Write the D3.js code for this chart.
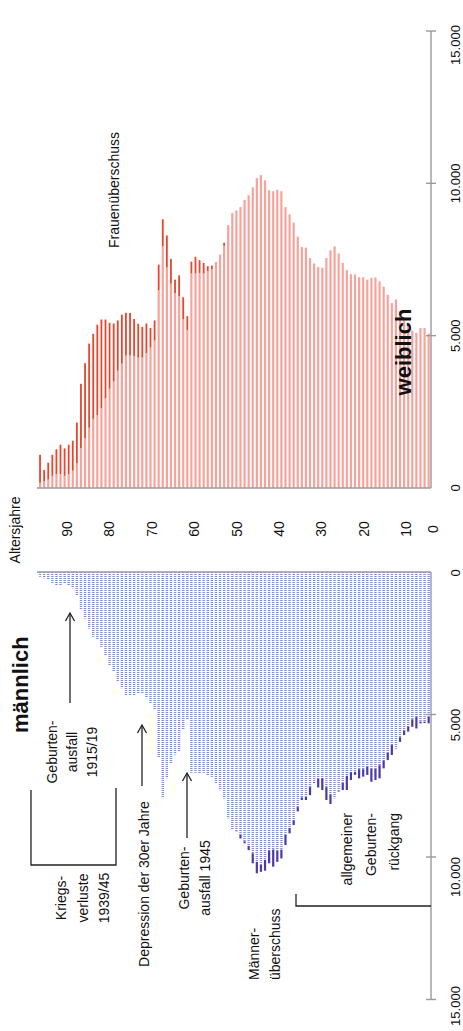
<!DOCTYPE html>
<html>
<head>
<meta charset="utf-8">
<script src="https://cdn.jsdelivr.net/npm/d3@7"></script>
<style>
  body { margin: 0; background: #fff; }
  text { font-family: "Liberation Sans", Arial, sans-serif; fill: #111; }
</style>
</head>
<body>
<div class="pyramid-area"></div>
<script>
// ages from 95 (left) down to 0 (right)
const ages = d3.range(95, -1, -1);

// Frauen, je Altersjahr (95 ... 0)
const female = [
  1090, 590, 830, 1090, 1270, 1420, 1300, 1420, 1550, 2150,
  3420, 4100, 4740, 5060, 5360, 5530, 5530, 5420, 5400, 5500,
  5690, 5750, 5750, 5550, 5390, 5290, 5400, 5250, 5500, 7330,
  8820, 8290, 7520, 6840, 6980, 6260, 5640, 7430, 7590, 7480,
  7390, 7280, 7300, 7420, 7660, 8050, 8630, 9020, 9110, 9220,
  9450, 9610, 9870, 10170, 10270, 10100, 9770, 9740, 9790, 9740,
  9220, 8980, 8710, 8250, 7910, 7890, 7550, 7370, 7250, 7230,
  7550, 7800, 7930, 7700, 7390, 7150, 7020, 7010, 6920, 6920,
  6840, 6900, 6910, 6780, 6610, 6340, 6070, 6190, 5800, 5560,
  5420, 5170, 5090, 5250, 5250, 5070
];

// Männer, je Altersjahr (95 ... 0)
const male = [
  170, 220, 280, 400, 460, 460, 400, 460, 570, 810,
  1310, 1630, 1980, 2270, 2390, 2620, 2950, 3260, 3500, 3850,
  4080, 4350, 4350, 4320, 4280, 4280, 4430, 4610, 4840, 6490,
  7940, 7240, 6710, 6400, 6300, 5540, 5190, 7040, 7040, 7060,
  7040, 7120, 7180, 7420, 7660, 7950, 8640, 9020, 9120, 9350,
  9520, 9760, 10220, 10570, 10520, 10480, 10220, 10340, 10170, 10050,
  9580, 9170, 8880, 8400, 8000, 8000, 7830, 7400, 7560, 7650,
  8000, 8140, 7940, 7720, 7650, 7650, 7300, 7120, 7240, 7180,
  7120, 7360, 7300, 7240, 6890, 6600, 6420, 6200, 5960, 5720,
  5600, 5430, 5490, 5310, 5300, 5310
];

const ageTicks = [90, 80, 70, 60, 50, 40, 30, 20, 10, 0];
const valueTicks = [0, 5000, 10000, 15000];

const width = 463,
  height = 1031,
  axisX = 431,
  barWidth = 2.2;

const de = d3.formatLocale({ decimal: ",", thousands: ".", grouping: [3], currency: ["", " €"] });
const formatNumber = de.format(",");

const svg = d3
  .select(".pyramid-area")
  .append("svg")
  .attr("width", width)
  .attr("height", height);

const x = d3.scaleBand().domain(ages).range([38, 430.7]).padding(0);
const cx = (a) => x(a) + x.bandwidth() / 2;

// female values grow upward, male values grow downward
const yF = d3.scaleLinear().domain([0, 15000]).range([488, 31]);
const yM = d3.scaleLinear().domain([0, 15000]).range([572, 999.5]);
// label positions of the male axis in the original are set a bit lower
const yMLabel = d3.scaleLinear().domain([0, 15000]).range([573, 1029]);
const ageLabel = d3.scaleLinear().domain([90, 10]).range([67, 406]);

const rows = ages.map((a, i) => ({ age: a, f: female[i], m: male[i] }));

// ---- weiblich ----
const fBars = svg.append("g");
fBars
  .selectAll("rect.light")
  .data(rows)
  .enter()
  .append("rect")
  .attr("x", (d) => cx(d.age) - barWidth / 2)
  .attr("width", barWidth)
  .attr("y", (d) => yF(Math.min(d.f, d.m)))
  .attr("height", (d) => yF(0) - yF(Math.min(d.f, d.m)))
  .attr("fill", "#f7a39b");

fBars
  .selectAll("rect.dark")
  .data(rows.filter((d) => d.f > d.m))
  .enter()
  .append("rect")
  .attr("x", (d) => cx(d.age) - barWidth / 2 + 0.2)
  .attr("width", barWidth - 0.4)
  .attr("y", (d) => yF(d.f))
  .attr("height", (d) => yF(d.m) - yF(d.f))
  .attr("fill", "#e8452c");

// ---- männlich ----
const mBars = svg.append("g");
mBars
  .selectAll("line")
  .data(rows)
  .enter()
  .append("line")
  .attr("x1", (d) => cx(d.age))
  .attr("x2", (d) => cx(d.age))
  .attr("y1", yM(0))
  .attr("y2", (d) => yM(Math.min(d.f, d.m)))
  .attr("stroke", "#7d8dd8")
  .attr("stroke-width", 2.4)
  .attr("stroke-dasharray", "1 1");

mBars
  .selectAll("rect")
  .data(rows.filter((d) => d.m > d.f))
  .enter()
  .append("rect")
  .attr("x", (d) => cx(d.age) - barWidth / 2)
  .attr("width", barWidth)
  .attr("y", (d) => yM(d.f))
  .attr("height", (d) => yM(d.m) - yM(d.f))
  .attr("fill", "#4b3aa6");

// ---- axes ----
const axis = svg.append("g").attr("stroke", "#9a9a9a").attr("stroke-width", 1.4).attr("fill", "none");
axis.append("line").attr("x1", 37).attr("x2", axisX).attr("y1", yF(0)).attr("y2", yF(0));
axis.append("line").attr("x1", 37).attr("x2", axisX).attr("y1", yM(0)).attr("y2", yM(0));
axis.append("line").attr("x1", axisX).attr("x2", axisX).attr("y1", yF(15000)).attr("y2", yF(0));
axis.append("line").attr("x1", axisX).attr("x2", axisX).attr("y1", yM(0)).attr("y2", yM(15000));
valueTicks.slice(1).forEach((v) => {
  axis.append("line").attr("x1", axisX - 5).attr("x2", axisX + 5).attr("y1", yF(v)).attr("y2", yF(v));
  axis.append("line").attr("x1", axisX - 5).attr("x2", axisX + 5).attr("y1", yM(v)).attr("y2", yM(v));
});

function vtext(px, py, str, size, anchor, weight) {
  return svg
    .append("text")
    .attr("transform", `translate(${px},${py}) rotate(-90)`)
    .attr("text-anchor", anchor || "middle")
    .attr("dominant-baseline", "central")
    .attr("font-size", size)
    .attr("font-weight", weight || "normal")
    .text(str);
}

valueTicks.forEach((v) => {
  vtext(455, Math.max(45, yF(v)), formatNumber(v), 13);
  vtext(455, Math.min(1006, yMLabel(v)), formatNumber(v), 13);
});

ageTicks.forEach((a) => {
  vtext(Math.min(ageLabel(a), axisX + 2), 529, a, 14);
});

vtext(15, 530, "Altersjahre", 14);
vtext(403, 352, "weiblich", 22, "middle", "bold");
vtext(20, 733, "männlich", 22, "start", "bold");
vtext(114, 190, "Frauenüberschuss", 14);

// ---- annotations ----
const ann = svg.append("g").attr("stroke", "#222").attr("stroke-width", 1.3).attr("fill", "none");
function arrow(px, from, to) {
  ann.append("path").attr("d", `M${px},${from}V${to}`);
  ann.append("path").attr("d", `M${px - 4.5},${to + 8}L${px},${to}L${px + 4.5},${to + 8}`);
}

["Geburten-", "ausfall", "1915/19"].forEach((s, i) => vtext(52 + i * 20, 752, s, 14));
arrow(70, 703, 613);

["Kriegs-", "verluste", "1939/45"].forEach((s, i) => vtext(61 + i * 21.5, 898, s, 14));
ann.append("path").attr("d", "M31,790V865H116V788");

vtext(144, 884, "Depression der 30er Jahre", 14);
arrow(142, 786, 725);

["Geburten-", "ausfall 1945"].forEach((s, i) => vtext(184 + i * 21, 878, s, 14));
arrow(187, 838, 773);

["Männer-", "überschuss"].forEach((s, i) => vtext(254 + i * 21, 980, s, 14, "start"));

["allgemeiner", "Geburten-", "rückgang"].forEach((s, i) => vtext(347 + i * 23.5, 813, s, 14, "end"));
ann.append("path").attr("d", "M296,894V906H431");
</script>
</body>
</html>
